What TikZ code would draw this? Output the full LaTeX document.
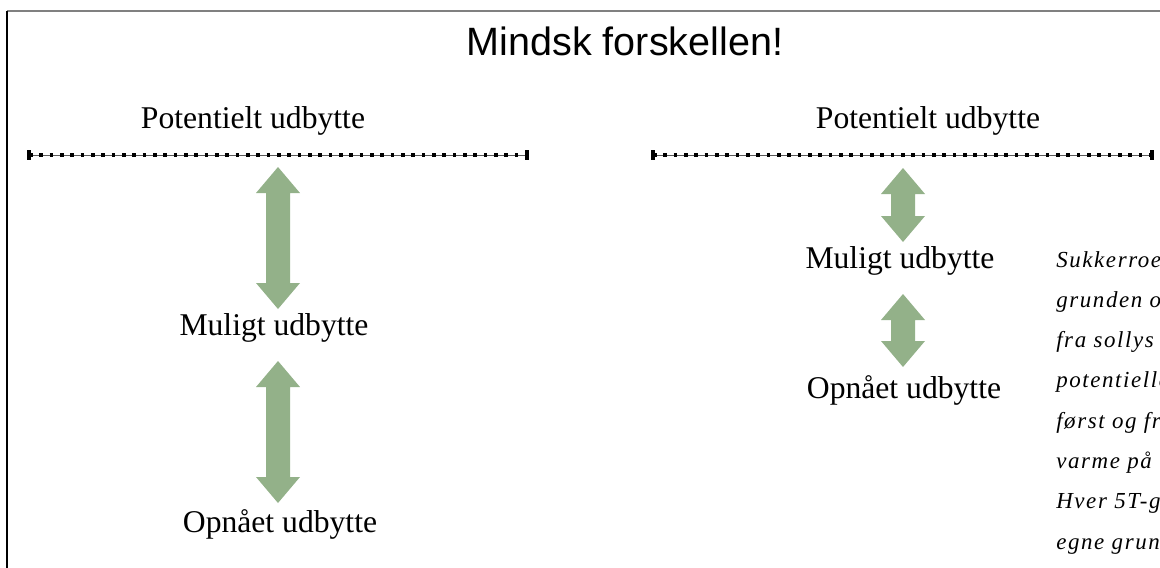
\documentclass[tikz,border=0pt]{standalone}
\usepackage{fontspec}
\setmainfont{Liberation Serif}
\newfontfamily\titlefont{Liberation Sans}
\newfontfamily\notefont[LetterSpace=7]{Liberation Serif}
\definecolor{arrowgreen}{RGB}{147,177,137}

\begin{document}
\begin{tikzpicture}[x=0.025cm, y=-0.025cm,
every node/.style={inner sep=0pt, anchor=base},
yieldlabel/.style={font=\fontsize{22.5}{27}\selectfont},
notetext/.style={font=\notefont\itshape\fontsize{16.3}{20}\selectfont, anchor=base west},
dotline/.style={line width=0.7pt, gray!70!black},
dotmarks/.style={line width=2.9pt, dash pattern=on 2.5pt off 4.85pt},
endtick/.style={line width=2.2pt}
]
\useasboundingbox (0,0) rectangle (1160,567);
\clip (0,0) rectangle (1160,567);

% frame
\draw[gray, line width=1.4pt] (7,11) -- (1170,11);
\draw[line width=1.4pt] (7,11) -- (7,580);

% title
\node (title) at (625,55) {\titlefont\fontsize{28.1}{34}\selectfont Mindsk forskellen!};

% left column
\node[yieldlabel] (potL) at (253,128) {Potentielt udbytte};
\node[yieldlabel] (mulL) at (274,335) {Muligt udbytte};
\node[yieldlabel] (opnL) at (280,532) {Opnået udbytte};

% right column
\node[yieldlabel] (potR) at (928,128) {Potentielt udbytte};
\node[yieldlabel] (mulR) at (900,268) {Muligt udbytte};
\node[yieldlabel] (opnR) at (904,398) {Opnået udbytte};

% dotted lines
\foreach \a/\b in {29/527, 653/1152}{
  \draw[dotline] (\a,155) -- (\b,155);
  \draw[dotmarks] (\a,155) -- (\b,155);
  \draw[endtick] (\a,150) -- (\a,160) (\b,150) -- (\b,160);
}

% block arrows
\foreach \x/\ya/\yb in {278/167/309, 278/361/503, 903/168/242, 903/294/367}
  \fill[arrowgreen] (\x,\ya) -- ++(22,26) -- ++(-10,0) -- (\x+12,\yb-26)
    -- ++(10,0) -- (\x,\yb) -- ++(-22,-26) -- ++(10,0) -- (\x-12,\ya+26)
    -- ++(-10,0) -- cycle;

% note, cut at the edge
\foreach \t [count=\i from 0] in {Sukkerroe, grunden o, fra sollys, potentielle,
    først og fr, varme på, Hver 5T-g, egne grun}
  \node[notetext] (note\i) at (1056,267+40.3*\i) {\t};

\end{tikzpicture}
\end{document}
